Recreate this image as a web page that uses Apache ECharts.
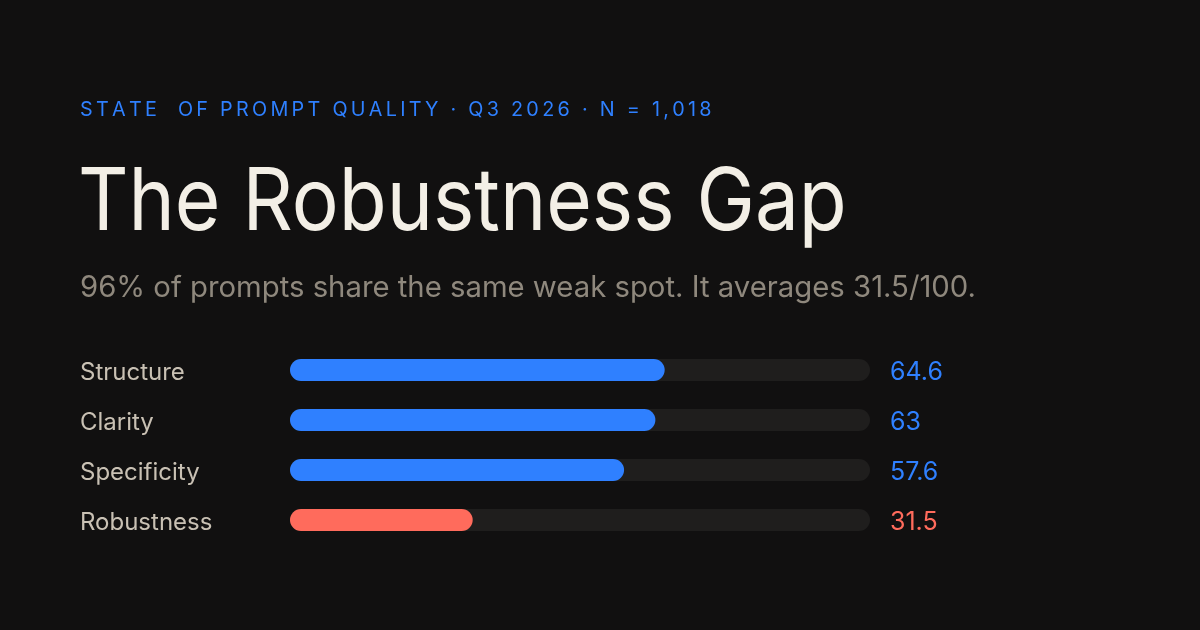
<!DOCTYPE html>
<html>
<head>
<meta charset="utf-8">
<script src="https://cdn.jsdelivr.net/npm/echarts@6/dist/echarts.min.js"></script>
<style>
  html, body { margin: 0; padding: 0; background: #111010; }
  #main { width: 1200px; height: 630px; }
</style>
</head>
<body>
<div id="main"></div>
<script>
var dimensions = ['Structure', 'Clarity', 'Specificity', 'Robustness'];
var scores = [64.6, 63, 57.6, 31.5];
var barColors = ['#2f80ff', '#2f80ff', '#2f80ff', '#ff6b5c'];
var scaleMax = 100;

var kicker = 'STATE  OF PROMPT QUALITY · Q3 2026 · N = 1,018';
var headline = 'The Robustness Gap';
var subline = '96% of prompts share the same weak spot. It averages 31.5/100.';

var chart = echarts.init(document.getElementById('main'));
var font = 'Inter, "Liberation Sans", sans-serif';

// zrender has no letter-spacing, so track the kicker with narrow spaces
function tracked(s) {
    return s.split('').join('\u2006');
}

chart.setOption({
    backgroundColor: '#111010',
    animation: false,
    graphic: [
        {
            type: 'text', x: 80, y: 100,
            style: { text: tracked(kicker), fill: '#2f80ff', font: '19.8px ' + font, textVerticalAlign: 'top' }
        },
        {
            type: 'text', x: 78, y: 160, scaleX: 0.9,
            style: { text: headline, fill: '#f3efe6', font: '87px ' + font, textVerticalAlign: 'top' }
        },
        {
            type: 'text', x: 80, y: 274,
            style: { text: subline, fill: '#8f887d', font: '29.3px ' + font, textVerticalAlign: 'top' }
        }
    ],
    grid: { left: 290, right: 330, top: 345, height: 200, containLabel: false },
    xAxis: { type: 'value', min: 0, max: scaleMax, show: false },
    yAxis: {
        type: 'category',
        inverse: true,
        data: dimensions,
        axisLine: { show: false },
        axisTick: { show: false },
        axisLabel: {
            align: 'left', margin: 210,
            formatter: function (v) { return '{n|' + v + '}'; },
            rich: {
                n: { color: '#c9c1b4', fontSize: 24, fontFamily: font, padding: [5, 0, 0, 0] }
            }
        }
    },
    series: [
        {
            type: 'bar',
            barWidth: 22,
            silent: true,
            z: 1,
            data: scores.map(function (v, i) {
                return { value: scaleMax, label: { color: barColors[i] } };
            }),
            itemStyle: { color: '#1f1e1d', borderRadius: 11 },
            label: {
                show: true, position: 'right', distance: 20,
                fontSize: 25, fontFamily: font,
                offset: [0, 2],
                formatter: function (p) { return String(scores[p.dataIndex]); }
            }
        },
        {
            type: 'bar',
            barWidth: 22,
            barGap: '-100%',
            z: 2,
            data: scores.map(function (v, i) {
                return { value: v, itemStyle: { color: barColors[i] } };
            }),
            itemStyle: { borderRadius: 11 }
        }
    ]
});
</script>
</body>
</html>
